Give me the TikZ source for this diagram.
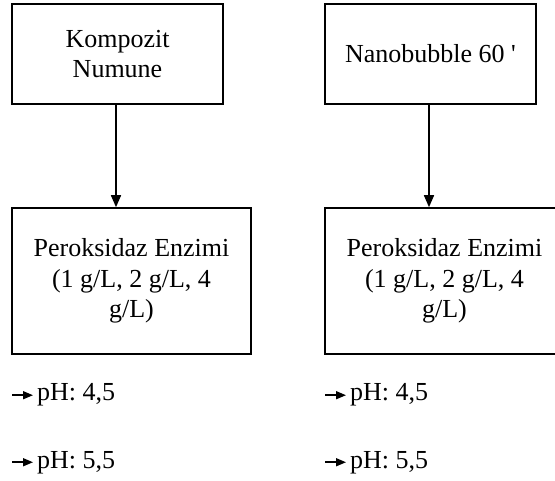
\documentclass[tikz,border=0pt]{standalone}
\usepackage{fontspec}
\setmainfont{Liberation Serif}
\newfontfamily\duz{Liberation Serif}
\usetikzlibrary{arrows.meta}
\tikzset{
  kutu/.style={draw,line width=1.6pt,inner sep=0pt,align=center,
    font=\fontsize{26}{30.5}\selectfont},
  etiket/.style={inner sep=0pt,anchor=base west,font=\fontsize{26}{30}\selectfont},
  ok/.style={line width=1.6pt,-{Triangle[width=10pt,length=12pt]}},
  minik/.style={line width=1.6pt,-{Triangle[width=8pt,length=10pt]}}
}
\begin{document}
\begin{tikzpicture}[x=1pt,y=1pt]
	\useasboundingbox (0,0) rectangle (555,-481);
	% ust kutular
	\node[kutu,minimum width=211,minimum height=100] (kompozit) at (117.5,-54) {Kompozit\\Numune};
	\node[kutu,minimum width=211,minimum height=100] (nano) at (430.5,-54) {Nanobubble 60 {\duz '}};
	% alt kutular
	\node[kutu,minimum width=239,minimum height=146] (enzim1) at (131.5,-281) {Peroksidaz Enzimi\\(1 g/L, 2 g/L, 4\\g/L)};
	\node[kutu,minimum width=239,minimum height=146] (enzim2) at (444.5,-281) {Peroksidaz Enzimi\\(1 g/L, 2 g/L, 4\\g/L)};
	\draw[ok] (kompozit.south) ++(-1.5,0) coordinate (k1) -- (k1 |- enzim1.north);
	\draw[ok] (nano.south) ++(-1.5,0) coordinate (n1) -- (n1 |- enzim2.north);
	% pH satirlari
	\foreach \x/\ad in {37/sol,350/sag}{
		\node[etiket] (\ad ph1) at (\x,-401) {pH: 4,5};
		\node[etiket] (\ad ph2) at (\x,-468) {pH: 5,5};
		\draw[minik] ([xshift=-25pt]\ad ph1.west) -- ([xshift=-4pt]\ad ph1.west);
		\draw[minik] ([xshift=-25pt]\ad ph2.west) -- ([xshift=-4pt]\ad ph2.west);
	}
\end{tikzpicture}
\end{document}
